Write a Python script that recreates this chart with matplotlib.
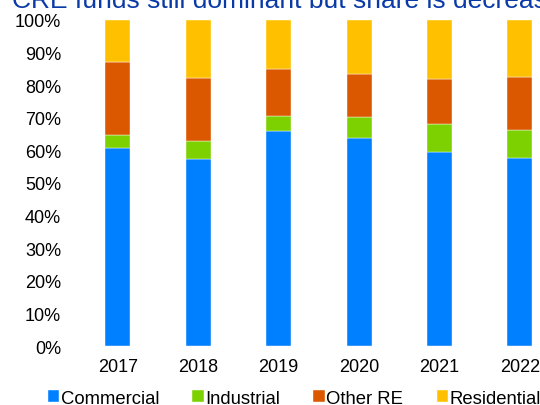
import numpy as np
import matplotlib
matplotlib.use("Agg")
import matplotlib.pyplot as plt

plt.rcParams['font.family'] = ['Liberation Sans', 'DejaVu Sans']

years = ['2017', '2018', '2019', '2020', '2021', '2022']
commercial = [60.7, 57.5, 66.0, 63.8, 59.6, 57.8]
industrial = [4.1, 5.3, 4.6, 6.4, 8.4, 8.5]
other_re = [22.2, 19.4, 14.5, 13.3, 14.0, 16.3]
residential = [13.0, 17.8, 14.9, 16.5, 18.0, 17.4]

series = [('Commercial', commercial, '#0080FF'),
          ('Industrial', industrial, '#7DD100'),
          ('Other RE', other_re, '#DC5800'),
          ('Residential', residential, '#FFC000')]

fig = plt.figure(figsize=(5.4, 4.06), dpi=100)
ax = fig.add_axes([0.144, 0.1453, 0.893, 0.803])

x = np.arange(len(years))
bottom = np.zeros(len(years))
for name, vals, col in series:
    ax.bar(x, vals, 0.31, bottom=bottom, color=col, label=name,
           edgecolor='#ffffff', linewidth=0.3)
    bottom += np.array(vals)

ax.set_xlim(-0.5, 5.5)
ax.set_ylim(0, 100)
ax.set_yticks(np.arange(0, 101, 10))
ax.set_yticklabels([f'{v}%' for v in range(0, 101, 10)])
ax.set_xticks(x)
ax.set_xticklabels(years)
ax.tick_params(axis='y', length=0, pad=12, labelsize=13)
ax.tick_params(axis='x', length=0, pad=8.5, labelsize=13)
for s in ax.spines.values():
    s.set_visible(False)

# title is cut off at the top of the image
fig.text(0.022, 1 - 8 / 406, 'CRE funds still dominant but share is decreasing',
         color='#0a3aa8', fontsize=19, va='baseline', ha='left')

fig.legend(loc='center', bbox_to_anchor=(0.545, 0.017), ncol=4, frameon=False,
           fontsize=13.3, handlelength=0.6, handleheight=0.6, handletextpad=0.1,
           columnspacing=1.8, borderaxespad=0)

fig.savefig('out.png', dpi=100)
